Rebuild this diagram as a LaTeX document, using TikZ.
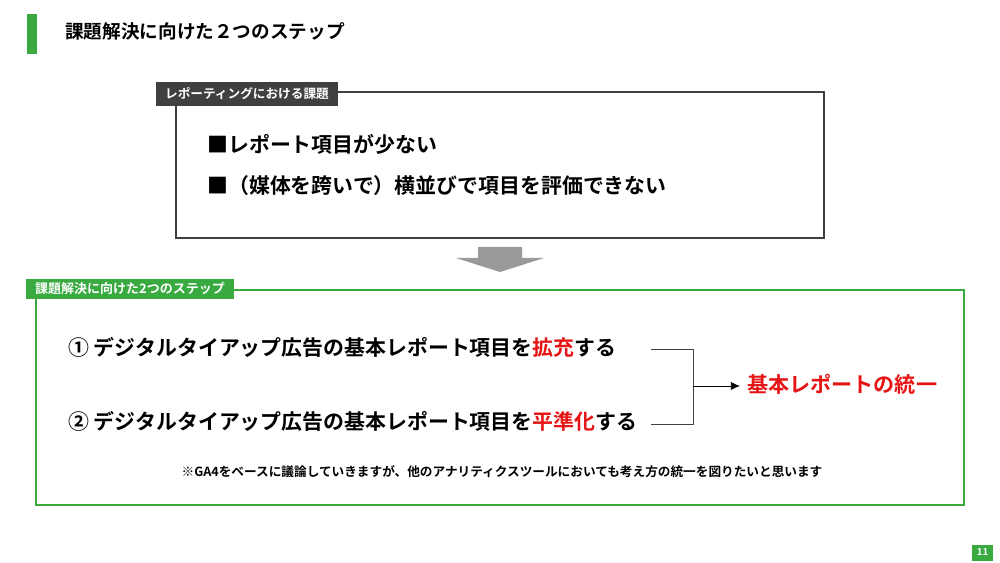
\documentclass[tikz,border=0pt]{standalone}
\usepackage{fontspec}
\setmainfont{Noto Sans CJK JP}[BoldFont={Noto Sans CJK JP Bold}]
\usetikzlibrary{positioning,arrows.meta}
\definecolor{slideGreen}{RGB}{56,170,64}
\definecolor{darkGray}{RGB}{64,64,64}
\definecolor{accentRed}{RGB}{230,20,20}
\tikzset{%
  % Specifications for style of nodes:
    >={Latex[width=1.6mm,length=1.8mm]},
    tagLabel/.style = {anchor=west, inner xsep=5pt, inner ysep=2pt, text=white, font=\bfseries\fontsize{7.2}{8}\selectfont},
    bigLine/.style = {anchor=west, inner sep=0, font=\bfseries\fontsize{11.9}{13}\selectfont},
}
\begin{document}
\begin{tikzpicture}[x=0.02cm, y=-0.02cm]
	\useasboundingbox (0,0) rectangle (1000,563);
	\fill[slideGreen] (27,14) rectangle (37,54);
	\node [bigLine, font=\bfseries\fontsize{10.6}{12}\selectfont] (title) at (65,31) {課題解決に向けた２つのステップ};

	% problem box
	\draw[darkGray, line width=1.2pt] (176,92) rectangle (824,238);
	\node [tagLabel, fill=darkGray, minimum height=0.48cm] (probTag) at (156,94) {レポーティングにおける課題};
	\node [bigLine] (prob1) at (207,144) {■レポート項目が少ない};
	\node [bigLine] (prob2) at (207,186) {■（媒体を跨いで）横並びで項目を評価できない};

	\fill[gray!80] (478,247) -- (522,247) -- (522,258) -- (544,258) -- (500,272) -- (456,258) -- (478,258) -- cycle;

	% steps box
	\draw[slideGreen, line width=1.2pt] (36,290) rectangle (964,505);
	\node [tagLabel, fill=slideGreen, minimum height=0.38cm, font=\bfseries\fontsize{7.4}{8}\selectfont] (stepTag) at (26,289) {課題解決に向けた2つのステップ};
	\node [bigLine] (step1) at (68,347) {① デジタルタイアップ広告の基本レポート項目を\textcolor{accentRed}{拡充}する};
	\node [bigLine] (step2) at (68,421) {② デジタルタイアップ広告の基本レポート項目を\textcolor{accentRed}{平準化}する};
	\node [bigLine, text=accentRed, font=\bfseries\fontsize{12}{13}\selectfont] (goal) at (747,384) {基本レポートの統一};
	\coordinate (join) at (693,386);
	\draw[darkGray] (651,349) -| (join) |- (651,424);
	\draw[->] (join) -- ([xshift=-4pt]join -| goal.west);
	\node [font=\bfseries\fontsize{7.2}{8}\selectfont, inner sep=0] (note) at (502,472) {※GA4をベースに議論していきますが、他のアナリティクスツールにおいても考え方の統一を図りたいと思います};

	\node [fill=slideGreen, text=white, font=\bfseries\fontsize{5.5}{6}\selectfont, minimum width=0.42cm, minimum height=0.32cm, inner sep=0] (pageNum) at (982.5,552.5) {11};
\end{tikzpicture}
\end{document}
